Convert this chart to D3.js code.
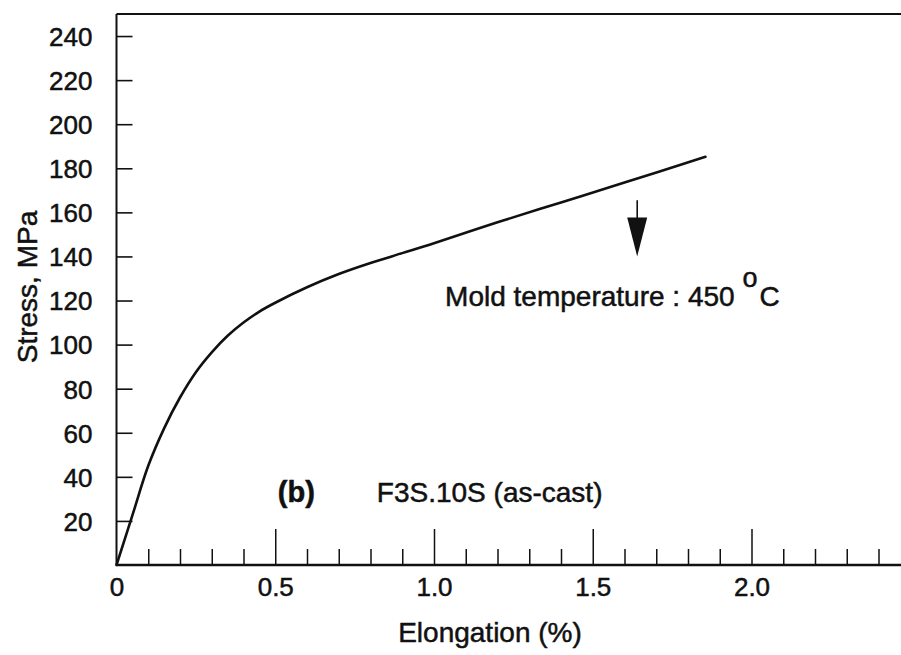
<!DOCTYPE html>
<html>
<head>
<meta charset="utf-8">
<script src="https://cdn.jsdelivr.net/npm/d3@7"></script>
<style>
  html, body { margin: 0; padding: 0; background: #fff; }
  svg { display: block; }
  text { font-family: "Liberation Sans", Arial, Helvetica, sans-serif; fill: #111; stroke: #111; stroke-width: 0.5px; }
</style>
</head>
<body>
<svg id="chart" width="901" height="655"></svg>
<script>
// Tensile curve: elongation (%) vs stress (MPa)
const elongation = [0, 0.05, 0.10, 0.15, 0.20, 0.25, 0.30, 0.35, 0.40, 0.45, 0.50, 0.60, 0.70, 0.80, 0.90, 1.00, 1.20, 1.40, 1.60, 1.855];
const stress     = [0, 22.5, 45, 62, 76, 87.5, 96.5, 104, 110, 115, 119, 126, 132, 137, 141.5, 146, 155.5, 164.5, 173.5, 185.2];

// Axis ticks
const xMajorTicks = [0, 0.5, 1.0, 1.5, 2.0];
const xMajorLabels = ["0", "0.5", "1.0", "1.5", "2.0"];
const xMinorTicks = [0.1, 0.2, 0.3, 0.4, 0.6, 0.7, 0.8, 0.9, 1.1, 1.2, 1.3, 1.4, 1.6, 1.7, 1.8, 1.9, 2.1, 2.2, 2.3, 2.4];
const yTicks = [20, 40, 60, 80, 100, 120, 140, 160, 180, 200, 220, 240];

// Annotations (placed in data units)
const arrowAt = { x: 1.64, yFrom: 165.5, yTo: 140 };
const moldLabel = ["Mold temperature : 450 ", "o", "C"];
const sampleLabel = ["(b)", "F3S.10S (as-cast)"];

const svg = d3.select("#chart");
const W = 901;

const x = d3.scaleLinear().domain([0, 2.5]).range([116.5, 116.5 + 317.5 * 2.5]);
const y = d3.scaleLinear().domain([0, 250]).range([565, 14]);

const ink = "#111";

// Frame: top border
svg.append("line")
  .attr("x1", x(0)).attr("x2", W)
  .attr("y1", y(250)).attr("y2", y(250))
  .attr("stroke", ink).attr("stroke-width", 2.2);

// Y axis
const yAxis = d3.axisLeft(y)
  .tickValues(yTicks)
  .tickSize(-16)
  .tickPadding(24)
  .tickFormat(d3.format("d"));
const gy = svg.append("g").attr("transform", `translate(${x(0)},0)`).call(yAxis);
gy.select(".domain").remove();
gy.selectAll(".tick line").attr("stroke", ink).attr("stroke-width", 1.6);
gy.selectAll(".tick text").attr("font-size", 26).attr("fill", ink).attr("dy", "0.36em");
svg.append("line")
  .attr("x1", x(0)).attr("x2", x(0))
  .attr("y1", y(0)).attr("y2", y(250))
  .attr("stroke", ink).attr("stroke-width", 2);

// X axis: minor ticks
const gxMinor = svg.append("g").attr("transform", `translate(0,${y(0)})`)
  .call(d3.axisBottom(x).tickValues(xMinorTicks).tickSize(-16).tickFormat(""));
gxMinor.select(".domain").remove();
gxMinor.selectAll(".tick line").attr("stroke", ink).attr("stroke-width", 1.5);

// X axis: major ticks with labels
const gxMajor = svg.append("g").attr("transform", `translate(0,${y(0)})`)
  .call(d3.axisBottom(x).tickValues(xMajorTicks).tickSize(-36).tickPadding(13)
    .tickFormat((d, i) => xMajorLabels[i]));
gxMajor.select(".domain").remove();
gxMajor.selectAll(".tick line").attr("stroke", ink).attr("stroke-width", 1.5)
  .filter(d => d === 0).remove();
gxMajor.selectAll(".tick text").attr("font-size", 26).attr("fill", ink);

svg.append("line")
  .attr("x1", x(0)).attr("x2", W)
  .attr("y1", y(0)).attr("y2", y(0))
  .attr("stroke", ink).attr("stroke-width", 2.6);

// Axis titles
svg.append("text")
  .attr("x", 490).attr("y", 642)
  .attr("text-anchor", "middle").attr("font-size", 28)
  .text("Elongation (%)");
svg.append("text")
  .attr("transform", "translate(37,287) rotate(-90)")
  .attr("text-anchor", "middle").attr("font-size", 28)
  .text("Stress, MPa");

// Stress-strain curve
const pts = elongation.map((e, i) => [e, stress[i]]);
svg.append("path")
  .datum(pts)
  .attr("fill", "none")
  .attr("stroke", ink)
  .attr("stroke-width", 2.6)
  .attr("stroke-linejoin", "round")
  .attr("stroke-linecap", "round")
  .attr("d", d3.line().x(d => x(d[0])).y(d => y(d[1])).curve(d3.curveCatmullRom.alpha(0.5)));

// Arrow pointing down
const ax = x(arrowAt.x), ay0 = y(arrowAt.yFrom), ay1 = y(arrowAt.yTo);
svg.append("line")
  .attr("x1", ax).attr("x2", ax).attr("y1", ay0).attr("y2", ay1 - 30)
  .attr("stroke", ink).attr("stroke-width", 1.6);
svg.append("path")
  .attr("d", `M${ax - 10},${ay1 - 39} L${ax + 10},${ay1 - 39} L${ax},${ay1} Z`)
  .attr("fill", ink);

// Mold temperature note
const mt = svg.append("text")
  .attr("x", x(1.035)).attr("y", y(117.5))
  .attr("font-size", 28);
mt.append("tspan").text(moldLabel[0]);
mt.append("tspan").attr("font-size", 27).attr("dy", -19).text(moldLabel[1]);
mt.append("tspan").attr("dy", 19).attr("dx", 2).text(moldLabel[2]);

// Sample label
svg.append("text")
  .attr("x", x(0.508)).attr("y", y(28.5))
  .attr("font-size", 29).attr("font-weight", "bold")
  .text(sampleLabel[0]);
svg.append("text")
  .attr("x", x(0.82)).attr("y", y(28.5))
  .attr("font-size", 28)
  .text(sampleLabel[1]);
</script>
</body>
</html>
